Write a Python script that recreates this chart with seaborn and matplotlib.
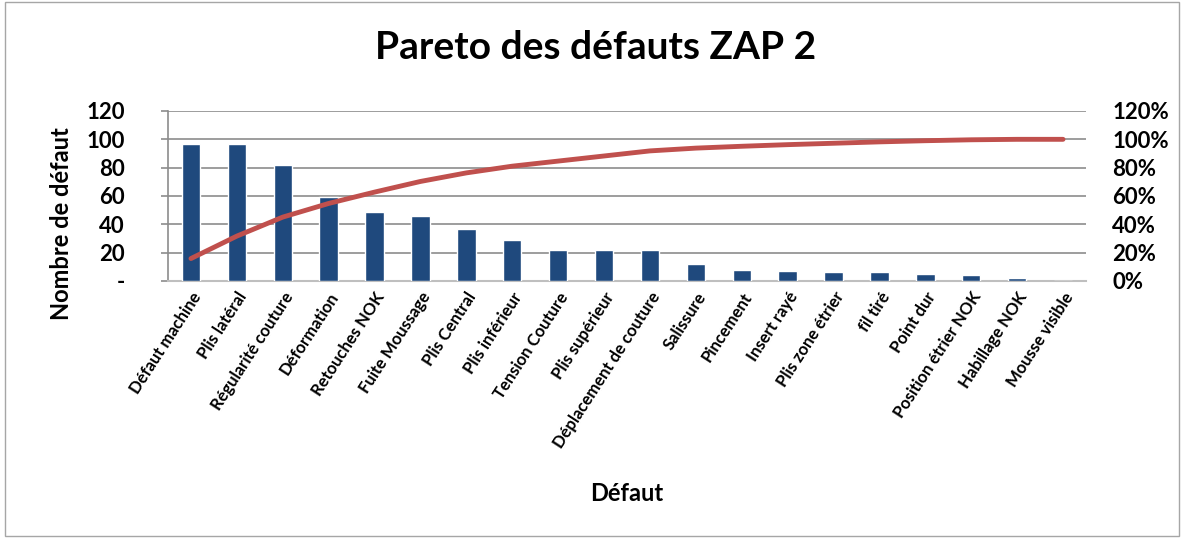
import numpy as np
import pandas as pd
import matplotlib
matplotlib.use("Agg")
import matplotlib.pyplot as plt
import seaborn as sns
from matplotlib.patches import Rectangle

# ── Data ───────────────────────────────────────────────────────────────────────
defauts = ["Défaut machine", "Plis latéral", "Régularité couture", "Déformation",
           "Retouches NOK", "Fuite Moussage", "Plis Central", "Plis inférieur",
           "Tension Couture", "Plis supérieur", "Déplacement de couture", "Salissure",
           "Pincement", "Insert rayé", "Plis zone étrier", "fil tiré", "Point dur",
           "Position étrier NOK", "Habillage NOK", "Mousse visible"]
nombre = [97, 97, 82, 59, 49, 46, 37, 29, 22, 22, 22, 12, 8, 7, 6, 6, 5, 4, 2, 0]

left_ticks = [0, 20, 40, 60, 80, 100, 120]
left_labels = ["-", "20", "40", "60", "80", "100", "120"]
right_ticks = [0, 0.2, 0.4, 0.6, 0.8, 1.0, 1.2]
right_labels = ["0%", "20%", "40%", "60%", "80%", "100%", "120%"]

df = pd.DataFrame({"defaut": defauts, "nombre": nombre})
df["cumul"] = df["nombre"].cumsum() / df["nombre"].sum()

# ── Plot ───────────────────────────────────────────────────────────────────────
sns.set_theme(style="white")
plt.rcParams["font.family"] = ["Lato", "DejaVu Sans"]
plt.rcParams["font.weight"] = "bold"
plt.rcParams["text.color"] = "black"
plt.rcParams["axes.labelcolor"] = "black"
plt.rcParams["xtick.color"] = "black"
plt.rcParams["ytick.color"] = "black"

fig = plt.figure(figsize=(11.84, 5.38), dpi=100)
ax = fig.add_axes([0.1419, 0.4777, 0.7753, 0.316])

sns.barplot(data=df, x="defaut", y="nombre", color="#1F497D", width=0.4,
            saturation=1, ax=ax, zorder=3)

ax.set_ylim(0, 120)
ax.set_yticks(left_ticks)
ax.set_yticklabels(left_labels, fontsize=16, fontweight="bold")
ax.yaxis.grid(True, color="#8C8C8C", linewidth=1.2, zorder=0)
ax.set_axisbelow(True)
ax.set_xlim(-0.5, len(defauts) - 0.5)
ax.set_xticks(range(len(defauts)))
ax.set_xticklabels(defauts, rotation=57, ha="right", rotation_mode="anchor",
                   fontsize=12, fontweight="bold")
ax.tick_params(axis="x", length=0, pad=6)
ax.tick_params(axis="y", length=5, width=1.2, color="#8C8C8C", left=True, pad=26,
               labelcolor="black")

ax.set_xlabel("Défaut", fontsize=17, fontweight="bold")
ax.set_ylabel("Nombre de défaut", fontsize=17, fontweight="bold")
ax.xaxis.set_label_coords(0.5, -1.18)
ax.yaxis.set_label_coords(-0.104, 0.34)

for side in ["top", "right"]:
    ax.spines[side].set_visible(False)
ax.spines["left"].set_color("#8C8C8C")
ax.spines["left"].set_linewidth(1.2)
ax.spines["bottom"].set_color("#BFBFBF")
ax.spines["bottom"].set_linewidth(1.5)

ax2 = ax.twinx()
ax2.plot(range(len(defauts)), df["cumul"], color="#C0504D", linewidth=3.5,
         solid_capstyle="round", zorder=4)
ax2.set_ylim(0, 1.2)
ax2.set_yticks(right_ticks)
ax2.set_yticklabels(right_labels, fontsize=16, fontweight="bold")
ax2.tick_params(axis="y", length=0, pad=19, labelcolor="black")
for side in ["top", "right", "left", "bottom"]:
    ax2.spines[side].set_visible(False)
ax2.grid(False)

fig.suptitle("Pareto des défauts ZAP 2", fontsize=28, fontweight="bold",
             x=0.503, y=0.945)

# chart border
fig.patches.append(Rectangle((0.004, 0.004), 0.992, 0.992, transform=fig.transFigure,
                             fill=False, edgecolor="#A6A6A6", linewidth=1))

fig.savefig("out.png", dpi=100)
